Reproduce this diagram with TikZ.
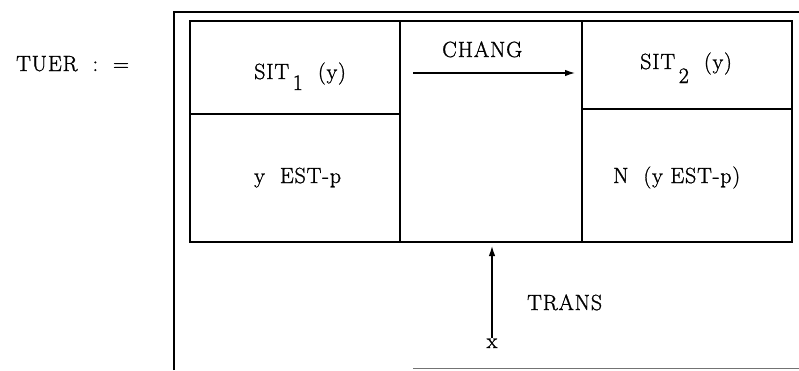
\documentclass[tikz,border=0pt]{standalone}
\usepackage{fontspec}
\setmainfont{Latin Modern Roman}[FakeBold=1.2, LetterSpace=4]
\usetikzlibrary{arrows.meta}
\begin{document}
\begin{tikzpicture}[x=1pt,y=-1pt,
  frame/.style={line width=1.6pt},
  grid/.style={line width=1.1pt},
  lbl/.style={font=\fontsize{22}{26}\selectfont, inner sep=0pt, anchor=base west},
  conn/.style={line width=1.3pt, -{Latex[length=10pt,width=6.5pt]}}]
\useasboundingbox (0,0) rectangle (799,370);
% outer frame (open on the right)
\draw[frame] (174,370) -- (174,12) -- (799,12);
\draw[line width=1.2pt, black!55] (413,368.5) -- (799,368.5);
% inner table
\draw[frame] (190,21) rectangle (792,242);
\draw[grid] (400,21) -- (400,242);
\draw[grid] (582,21) -- (582,242);
\draw[grid] (190,114) -- (400,114);
\draw[grid] (582,109) -- (792,109);
% texts
\node[lbl] (def) at (16,71) {TUER \ :\ \ =};
\node[lbl] (s1) at (254,79) {SIT\raisebox{-11pt}{\,1}\ \ (y)};
\node[lbl] (p1) at (254,183) {y \ EST-p};
\node[lbl] (chg) at (442,57) {CHANG};
\node[lbl] (s2) at (640,69) {SIT\raisebox{-14pt}{\,2}\ \ (y)};
\node[lbl] (p2) at (613,183) {N \ (y EST-p)};
\node[lbl] (tr) at (527,310) {TRANS};
\node[lbl, anchor=base] (x) at (492,348) {x};
% arrows
\coordinate (ca) at (413,73);
\coordinate (cb) at (575,73);
\draw[conn] (ca) -- (cb);
\coordinate (tip) at (492,246);
\draw[conn] (x.north) -- (tip);
\end{tikzpicture}
\end{document}
